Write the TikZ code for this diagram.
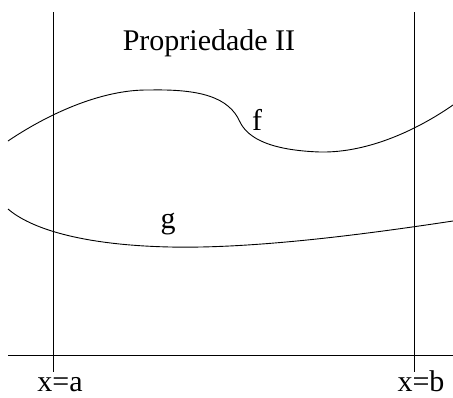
\documentclass[tikz,border=0pt]{standalone}
\usepackage{fontspec}
\setmainfont{Liberation Serif}
\begin{document}
\begin{tikzpicture}[x=1pt,y=-1pt,
  lbl/.style={font=\fontsize{30}{36}\selectfont, inner sep=0pt, anchor=base},
  ln/.style={line width=0.9pt}]
\useasboundingbox (0,0) rectangle (453,397);
% verticals and axis
\coordinate (a1) at (53,12); \coordinate (a2) at (53,372);
\coordinate (b1) at (414,12); \coordinate (b2) at (414,372);
\coordinate (h1) at (8,355); \coordinate (h2) at (453,355);
\draw[ln] (a1) -- (a2);
\draw[ln] (b1) -- (b2);
\draw[ln] (h1) -- (h2);
% curve f
\coordinate (f0) at (8,141);
\coordinate (f1) at (150,90);
\coordinate (f2) at (240,122);
\coordinate (f3) at (320,152);
\coordinate (f4) at (453,105);
\draw[ln] (f0) .. controls (45,116) and (100,89) .. (f1)
  .. controls (200,89) and (229,97) .. (f2)
  .. controls (246,134) and (262,150) .. (f3)
  .. controls (370,153) and (420,128) .. (f4);
% curve g
\coordinate (g0) at (8,209);
\coordinate (g1) at (170,247);
\coordinate (g2) at (453,221);
\draw[ln] (g0) .. controls (30,228) and (80,245) .. (g1)
  .. controls (260,249) and (380,232) .. (g2);
% labels
\node[lbl] (title) at (209,50) {Propriedade II};
\node[lbl] (fl) at (257,130) {f};
\node[lbl] (gl) at (168,228) {g};
\node[lbl] (xa) at (60,391) {x=a};
\node[lbl] (xb) at (421,391) {x=b};
\end{tikzpicture}
\end{document}
